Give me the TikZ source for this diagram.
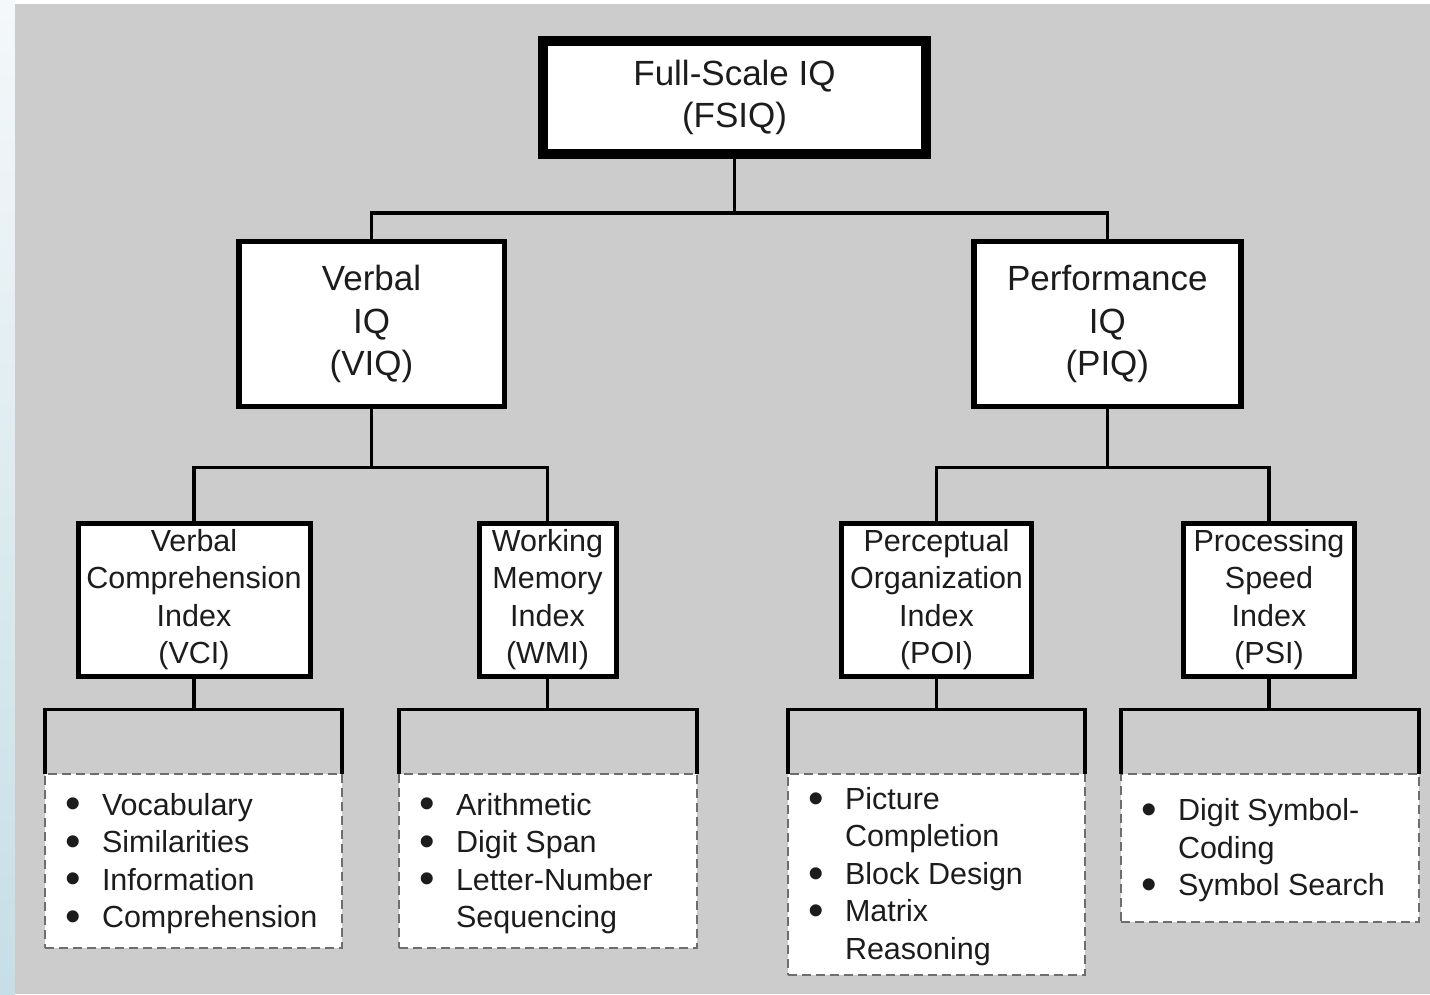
\documentclass[tikz,border=0pt]{standalone}
\usepackage{fontspec}
\setmainfont{Liberation Sans}
\usepackage{graphicx}
\definecolor{bggray}{HTML}{CCCCCC}
\definecolor{txt}{HTML}{1C1C1C}
\definecolor{dashgray}{HTML}{6E6E6E}
\definecolor{stripTop}{HTML}{F4F8FA}
\definecolor{stripBot}{HTML}{C6DEE6}
\newcommand{\bitem}{\makebox[37pt][l]{\smash{\raisebox{-0.12em}{\scalebox{1.45}{\textbullet}}}}}
\newcommand{\bcont}{\hspace*{37pt}}
\begin{document}
\begin{tikzpicture}[x=1pt,y=-1pt,
  every node/.style={outer sep=0pt, text=txt},
  bigbox/.style={draw=black, fill=white, line width=5.5pt, align=center, inner sep=0pt,
    font=\fontsize{35}{42.5}\selectfont},
  topbox/.style={bigbox, line width=9.5pt},
  idxbox/.style={draw=black, fill=white, line width=5pt, align=center, inner sep=0pt,
    font=\fontsize{30.5}{37.5}\selectfont},
  listbox/.style={draw=dashgray, fill=white, line width=2pt, dash pattern=on 9pt off 5pt, inner sep=0pt},
  listtext/.style={align=left, inner sep=0pt, anchor=west, font=\fontsize{30.5}{37.5}\selectfont},
  conn/.style={draw=black, line width=3.5pt, line join=miter}
]
\useasboundingbox (0,0) rectangle (1430,994);
\fill[white] (0,0) rectangle (1430,994);
\shade[top color=stripTop, bottom color=stripBot] (0,0) rectangle (15,994);
\fill[bggray] (15,4) rectangle (1430,994);

% main boxes
\node[topbox, minimum width=383pt, minimum height=113pt] (fsiq) at (734.5,97.5) {Full-Scale IQ\\(FSIQ)};
\node[bigbox, minimum width=265.5pt, minimum height=165pt] (viq) at (371.5,324) {Verbal\\IQ\\(VIQ)};
\node[bigbox, minimum width=267pt, minimum height=165pt] (piq) at (1107.3,324) {Performance\\IQ\\(PIQ)};

% index boxes
\node[idxbox, minimum width=232pt, minimum height=153pt] (vci) at (194,599.5) {Verbal\\Comprehension\\Index\\(VCI)};
\node[idxbox, minimum width=137pt, minimum height=153pt] (wmi) at (547.5,599.5) {Working\\Memory\\Index\\(WMI)};
\node[idxbox, minimum width=190pt, minimum height=153pt] (poi) at (936.5,599.5) {Perceptual\\Organization\\Index\\(POI)};
\node[idxbox, minimum width=171pt, minimum height=153pt] (psi) at (1269,599.5) {Processing\\Speed\\Index\\(PSI)};

% subtest lists
\node[listbox, minimum width=297pt, minimum height=174pt] (l1) at (193.5,861) {};
\node[listbox, minimum width=298pt, minimum height=174pt] (l2) at (548,861) {};
\node[listbox, minimum width=297pt, minimum height=201pt] (l3) at (936.5,874.5) {};
\node[listbox, minimum width=298pt, minimum height=148pt] (l4) at (1270,848) {};

\node[listtext] (t1) at ([xshift=20pt,yshift=-2.5pt]l1.west) {\bitem Vocabulary\\\bitem Similarities\\\bitem Information\\\bitem Comprehension};
\node[listtext] (t2) at ([xshift=20pt,yshift=-2.5pt]l2.west) {\bitem Arithmetic\\\bitem Digit Span\\\bitem Letter-Number\\\bcont Sequencing};
\node[listtext] (t3) at ([xshift=20pt,yshift=-2pt]l3.west) {\bitem Picture\\\bcont Completion\\\bitem Block Design\\\bitem Matrix\\\bcont Reasoning};
\node[listtext] (t4) at ([xshift=20pt,yshift=-2.5pt]l4.west) {\bitem Digit Symbol-\\\bcont Coding\\\bitem Symbol Search};

% connectors
\coordinate (h1) at (0,213);
\coordinate (h2) at (0,467.5);
\coordinate (h3) at (0,709.5);
\draw[conn] (fsiq.south) -- (h1 -| fsiq.south);
\draw[conn] (viq.north) |- (h1 -| fsiq.south) -| (piq.north);
\draw[conn] (viq.south) -- (h2 -| viq.south);
\draw[conn] (vci.north) |- (h2 -| viq.south) -| (wmi.north);
\draw[conn] (piq.south) -- (h2 -| piq.south);
\draw[conn] (poi.north) |- (h2 -| piq.south) -| (psi.north);
\draw[conn] (vci.south) -- (h3 -| vci.south);
\draw[conn] (l1.north west) |- (h3 -| vci.south) -| (l1.north east);
\draw[conn] (wmi.south) -- (h3 -| wmi.south);
\draw[conn] (l2.north west) |- (h3 -| wmi.south) -| (l2.north east);
\draw[conn] (poi.south) -- (h3 -| poi.south);
\draw[conn] (l3.north west) |- (h3 -| poi.south) -| (l3.north east);
\draw[conn] (psi.south) -- (h3 -| psi.south);
\draw[conn] (l4.north west) |- (h3 -| psi.south) -| (l4.north east);
\end{tikzpicture}
\end{document}
